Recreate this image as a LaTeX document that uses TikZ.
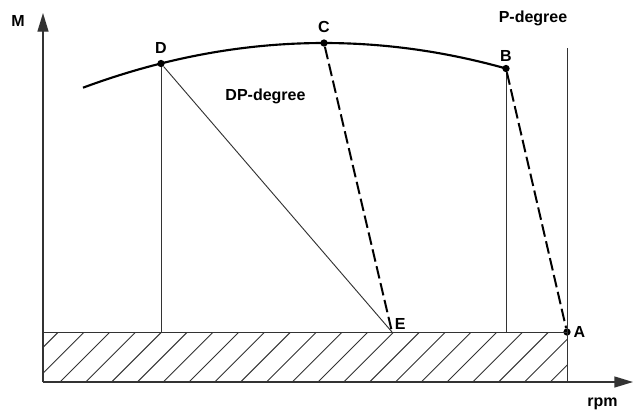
\documentclass[tikz,border=0pt]{standalone}
\usepackage{fontspec}
\setmainfont{Liberation Sans}
\usetikzlibrary{arrows.meta}
\definecolor{cLine}{HTML}{333333}

\begin{document}
\begin{tikzpicture}[x=0.75pt,y=-0.75pt,font=\fontsize{12}{14}\selectfont\bfseries,
    dot/.style={circle,fill=black,inner sep=0pt,minimum size=5.5pt},
    thinline/.style={draw=cLine,line width=0.7pt},
    dashline/.style={draw=black,line width=1.5pt,dash pattern=on 9.5pt off 3.5pt},
    axis/.style={draw=cLine,line width=1pt,-{Triangle[length=14pt,width=8.25pt]}}]
    \useasboundingbox (0,0) rectangle (636,412);
    % axes
    \coordinate (O) at (43,382);
    \coordinate (Mtip) at (43,13);
    \coordinate (Rtip) at (633,382);
    % points on the curve and below it
    \coordinate (S) at (83,87.7);
    \node[dot,label={[label distance=1pt]above:D}] (D) at (161,63.5) {};
    \node[dot,label={[label distance=1pt]above:C}] (C) at (324,43) {};
    \node[dot,label={[label distance=-1pt]above:B}] (B) at (506,68.5) {};
    \node[dot,label={[label distance=-1.5pt]right:A}] (A) at (567,332) {};
    \coordinate[label={[anchor=south west,inner sep=0pt,xshift=2pt,yshift=1.5pt]E}] (E) at (392,332);
    \coordinate (Ptop) at (567,48);

    % hatched band
    \begin{scope}
      \clip (O |- A) rectangle (A |- O);
      \foreach \x in {-17.4,8.4,...,580}
        \draw[thinline] (\x,382) -- ++(50,-50);
    \end{scope}
    \draw[thinline] (O |- A) rectangle (A |- O);
    \draw[thinline] (Ptop) -- (A |- O);
    \draw[thinline] (D) -- (D |- A);
    \draw[thinline] (B) -- (B |- A);
    \draw[thinline] (D) -- (E);
    \draw[dashline] (C) -- (E);
    \draw[dashline] (B) -- (A);
    \draw[axis] (O) -- (Mtip);
    \draw[axis] (O) -- (Rtip);

    % the curve
    \draw[line width=1.6pt] (S) .. controls (224,35.4) and (365,29) .. (B.center);

    \node[anchor=base] (Mlab) at (18,26.7) {M};
    \node[anchor=base] (rpm) at (602.5,406) {rpm};
    \node[anchor=base] (Plab) at (533,22.7) {P-degree};
    \node[anchor=base] (DPlab) at (265.5,100.7) {DP-degree};
\end{tikzpicture}
\end{document}
